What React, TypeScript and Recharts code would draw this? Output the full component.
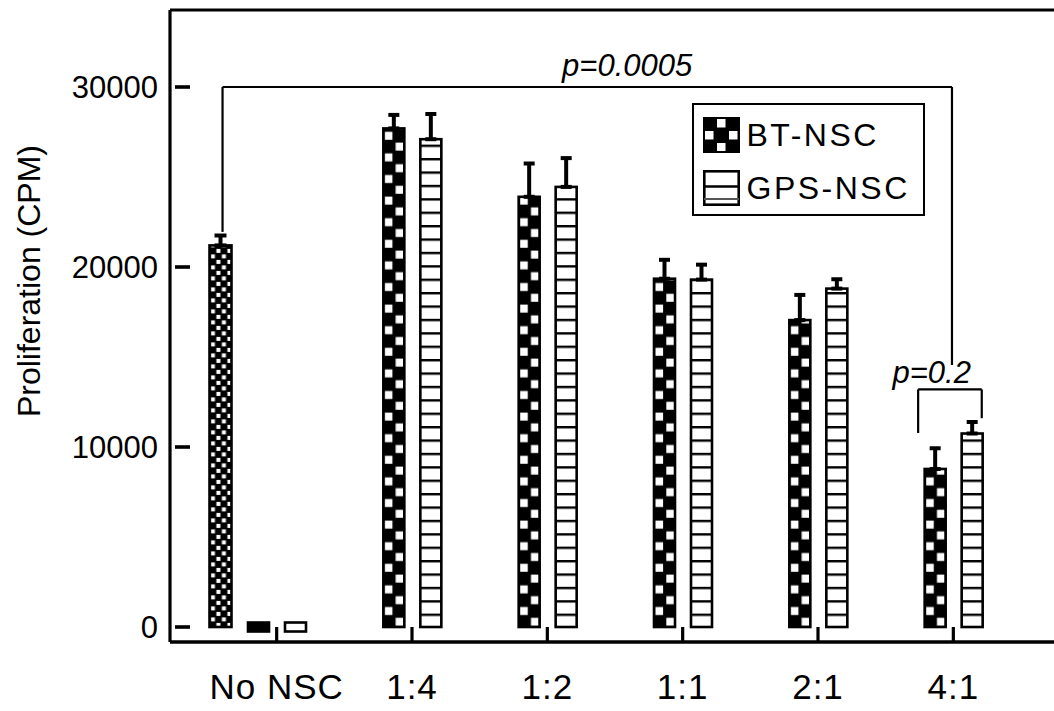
import React from "react";
import {
  Bar,
  BarChart,
  ErrorBar,
  Legend,
  ReferenceDot,
  ReferenceLine,
  XAxis,
  YAxis,
} from "recharts";

const groups = ["No NSC", "1:4", "1:2", "1:1", "2:1", "4:1"];
const tCellsAlone = [21200, null, null, null, null, null];
const tCellsAloneErr = [550, null, null, null, null, null];
const btNsc = [0, 27700, 23900, 19350, 17050, 8780];
const btNscErr = [null, 750, 1850, 1050, 1400, 1150];
const gpsNsc = [0, 27100, 24450, 19300, 18800, 10750];
const gpsNscErr = [null, 1400, 1600, 830, 520, 640];
const yTicks = [0, 10000, 20000, 30000];

// annotation positions, x in category units (0 = "No NSC" ... 5 = "4:1")
const bigBracket = { from: -0.4, to: 4.99, y: 30000, leftFoot: 21950, rightFoot: 14550, textX: 2.59 };
const smallBracket = { from: 4.74, to: 5.21, y: 13200, leftFoot: 10780, rightFoot: 11600, textX: 4.84 };

const data = groups.map((group, i) => ({
  group,
  control: tCellsAlone[i],
  controlErr: tCellsAloneErr[i],
  bt: btNsc[i],
  btErr: btNscErr[i],
  gps: gpsNsc[i],
  gpsErr: gpsNscErr[i],
}));

const font = "'Liberation Sans', Arial, Helvetica, sans-serif";
const yDomain: [number, number] = [-833, 34278];
const axisPadding = { left: 39, right: 33 };
const halfBand = 67.67;

function BarPattern({ id, kind, x = 0, y = 0 }: { id: string; kind: string; x?: number; y?: number }) {
  if (kind === "control") {
    return (
      <pattern id={id} patternUnits="userSpaceOnUse" x={x} y={y} width={11} height={11}>
        <rect width={11} height={11} fill="#000" />
        <rect x={1.4} y={1.4} width={4} height={4} fill="#fff" />
        <rect x={6.9} y={6.9} width={4} height={4} fill="#fff" />
      </pattern>
    );
  }
  if (kind === "bt") {
    return (
      <pattern id={id} patternUnits="userSpaceOnUse" x={x} y={y} width={22} height={21.6}>
        <rect width={22} height={21.6} fill="#000" />
        <rect x={1.3} y={1.6} width={7.8} height={8} fill="#fff" />
        <rect x={12.3} y={12.4} width={7.8} height={8} fill="#fff" />
      </pattern>
    );
  }
  return (
    <pattern id={id} patternUnits="userSpaceOnUse" x={x} y={y} width={10} height={13.4}>
      <rect width={10} height={13.4} fill="#fff" />
      <rect y={0} width={10} height={2.4} fill="#000" />
    </pattern>
  );
}

function PatternBar(props: any) {
  const { x, y, width, height, index, kind } = props;
  if (![x, y, width, height].every((v) => Number.isFinite(v))) return null;
  let top = y;
  let h = height;
  const tiny = h < 6;
  if (tiny) {
    const base = y + h;
    top = base - 4.5;
    h = 9;
  }
  const id = `${kind}-bar-${index}`;
  const fill = tiny && kind === "bt" ? "#000" : `url(#${id})`;
  return (
    <g>
      <defs>
        <BarPattern id={id} kind={kind} x={x} y={top + h} />
      </defs>
      <rect x={x} y={top} width={width} height={h} fill={fill} stroke="#000" strokeWidth={2.6} />
    </g>
  );
}

function YTick(props: any) {
  const { x, y, payload } = props;
  const axisX = x + 12;
  return (
    <g>
      <line x1={axisX + 5} x2={axisX + 20} y1={y} y2={y} stroke="#000" strokeWidth={3.6} />
      <text x={x} y={y} dy="0.36em" textAnchor="end" fontSize={31} fill="#000" fontFamily={font}>
        {payload.value}
      </text>
    </g>
  );
}

function XTick(props: any) {
  const { x, y, payload } = props;
  return (
    <g>
      <line x1={x} x2={x} y1={y} y2={y - 15} stroke="#000" strokeWidth={3.2} />
      <text x={x} y={y + 57} textAnchor="middle" fontSize={35} letterSpacing={1} fill="#000" fontFamily={font}>
        {payload.value}
      </text>
    </g>
  );
}

function YLabel(props: any) {
  const vb = props.viewBox || { x: 0, y: 10, width: 170, height: 632 };
  const cx = vb.x + 29;
  const cy = vb.y + vb.height / 2 - 45;
  return (
    <text
      x={cx}
      y={cy}
      transform={`rotate(-90, ${cx}, ${cy})`}
      textAnchor="middle"
      dominantBaseline="central"
      fontSize={32}
      fill="#000"
      fontFamily={font}
    >
      Proliferation (CPM)
    </text>
  );
}

function LegendSwatch({ kind }: { kind: string }) {
  return (
    <svg width={37} height={36} style={{ display: "block" }}>
      {kind === "bt" ? (
        <>
          <defs>
            <pattern id="legend-bt" patternUnits="userSpaceOnUse" width={24} height={24}>
              <rect width={24} height={24} fill="#000" />
              <rect x={14} y={2} width={8.5} height={8.5} fill="#fff" />
              <rect x={2} y={14} width={8.5} height={8.5} fill="#fff" />
            </pattern>
          </defs>
          <rect x={1} y={1} width={35} height={34} fill="url(#legend-bt)" stroke="#000" strokeWidth={2} />
        </>
      ) : (
        <>
          <rect x={1.3} y={1.3} width={34.4} height={33.4} fill="#fff" stroke="#000" strokeWidth={2.6} />
          <line x1={1} x2={36} y1={16.5} y2={16.5} stroke="#000" strokeWidth={2.4} />
          <line x1={1} x2={36} y1={29} y2={29} stroke="#555" strokeWidth={2} />
        </>
      )}
    </svg>
  );
}

function LegendBox(props: any) {
  const items = (props.payload || []).filter((p: any) => p.dataKey === "bt" || p.dataKey === "gps");
  return (
    <div
      style={{
        boxSizing: "border-box",
        width: 233,
        height: 113,
        border: "2.5px solid #000",
        padding: "11.5px 0 0 8.5px",
        background: "#fff",
        fontFamily: font,
      }}
    >
      {items.map((item: any, i: number) => (
        <div
          key={item.dataKey}
          style={{ display: "flex", alignItems: "center", height: 36, marginBottom: i === 0 ? 17 : 0 }}
        >
          <LegendSwatch kind={item.dataKey} />
          <span style={{ marginLeft: 7, fontSize: 32, letterSpacing: 2.5, lineHeight: 1, color: "#000" }}>
            {item.value}
          </span>
        </div>
      ))}
    </div>
  );
}

export default function App() {
  const lineStyle = { stroke: "#000", strokeWidth: 2.2, ifOverflow: "visible" as const };
  return (
    <div style={{ position: "absolute", left: 0, top: 0, width: 1054, height: 711, background: "#fff", fontFamily: font }}>
      <BarChart
        width={1054}
        height={711}
        data={data}
        margin={{ top: 10, right: 0, bottom: 0, left: 0 }}
        barGap={16}
      >
        <XAxis
          xAxisId="main"
          dataKey="group"
          height={69}
          padding={axisPadding}
          axisLine={{ stroke: "#000", strokeWidth: 3.6 }}
          tickLine={false}
          tickSize={0}
          tickMargin={0}
          interval={0}
          tick={(p: any) => <XTick {...p} />}
        />
        <XAxis
          xAxisId="ctrl"
          dataKey="group"
          orientation="top"
          height={0}
          hide
          padding={{ left: axisPadding.left - 56.5, right: axisPadding.right + 56.5 }}
        />
        <XAxis
          xAxisId="num"
          type="number"
          orientation="top"
          height={0}
          hide
          domain={[0, 5]}
          allowDataOverflow
          padding={{ left: axisPadding.left + halfBand, right: axisPadding.right + halfBand }}
        />
        <YAxis
          width={170}
          domain={yDomain}
          allowDataOverflow
          ticks={yTicks}
          interval={0}
          axisLine={{ stroke: "#000", strokeWidth: 3.2 }}
          tickLine={false}
          tickSize={0}
          tickMargin={12}
          tick={(p: any) => <YTick {...p} />}
          label={{ content: (p: any) => <YLabel {...p} /> }}
        />
        <ReferenceLine xAxisId="main" y={yDomain[1]} stroke="#000" strokeWidth={3.2} ifOverflow="visible" />

        <Bar
          xAxisId="ctrl"
          dataKey="control"
          name="T cells"
          legendType="none"
          barSize={22}
          isAnimationActive={false}
          shape={(p: any) => <PatternBar {...p} kind="control" />}
        >
          <ErrorBar
            dataKey={(d: any) => (d.controlErr == null ? null : [0, d.controlErr])}
            width={6}
            stroke="#000"
            strokeWidth={4}
            isAnimationActive={false}
          />
        </Bar>
        <Bar
          xAxisId="main"
          dataKey="bt"
          name="BT-NSC"
          barSize={21}
          minPointSize={2}
          isAnimationActive={false}
          shape={(p: any) => <PatternBar {...p} kind="bt" />}
        >
          <ErrorBar
            dataKey={(d: any) => (d.btErr == null ? null : [0, d.btErr])}
            width={5.5}
            stroke="#000"
            strokeWidth={4}
            isAnimationActive={false}
          />
        </Bar>
        <Bar
          xAxisId="main"
          dataKey="gps"
          name="GPS-NSC"
          barSize={21}
          minPointSize={2}
          isAnimationActive={false}
          shape={(p: any) => <PatternBar {...p} kind="gps" />}
        >
          <ErrorBar
            dataKey={(d: any) => (d.gpsErr == null ? null : [0, d.gpsErr])}
            width={5.5}
            stroke="#000"
            strokeWidth={4}
            isAnimationActive={false}
          />
        </Bar>

        {/* p=0.0005 bracket */}
        <ReferenceLine
          xAxisId="num"
          segment={[
            { x: bigBracket.from, y: bigBracket.leftFoot },
            { x: bigBracket.from, y: bigBracket.y },
          ]}
          {...lineStyle}
        />
        <ReferenceLine
          xAxisId="num"
          segment={[
            { x: bigBracket.from, y: bigBracket.y },
            { x: bigBracket.to, y: bigBracket.y },
          ]}
          {...lineStyle}
        />
        <ReferenceLine
          xAxisId="num"
          segment={[
            { x: bigBracket.to, y: bigBracket.y },
            { x: bigBracket.to, y: bigBracket.rightFoot },
          ]}
          {...lineStyle}
        />
        <ReferenceDot
          xAxisId="num"
          x={bigBracket.textX}
          y={bigBracket.y}
          r={0}
          ifOverflow="visible"
          label={{
            value: "p=0.0005",
            position: "top",
            offset: 11,
            fontSize: 31,
            fontStyle: "italic",
            fill: "#000",
            fontFamily: font,
          }}
        />

        {/* p=0.2 bracket */}
        <ReferenceLine
          xAxisId="num"
          segment={[
            { x: smallBracket.from, y: smallBracket.leftFoot },
            { x: smallBracket.from, y: smallBracket.y },
          ]}
          {...lineStyle}
        />
        <ReferenceLine
          xAxisId="num"
          segment={[
            { x: smallBracket.from, y: smallBracket.y },
            { x: smallBracket.to, y: smallBracket.y },
          ]}
          {...lineStyle}
        />
        <ReferenceLine
          xAxisId="num"
          segment={[
            { x: smallBracket.to, y: smallBracket.y },
            { x: smallBracket.to, y: smallBracket.rightFoot },
          ]}
          {...lineStyle}
        />
        <ReferenceDot
          xAxisId="num"
          x={smallBracket.textX}
          y={smallBracket.y}
          r={0}
          ifOverflow="visible"
          label={{
            value: "p=0.2",
            position: "top",
            offset: 6,
            fontSize: 31,
            fontStyle: "italic",
            fill: "#000",
            fontFamily: font,
          }}
        />

        <Legend
          layout="vertical"
          align="center"
          verticalAlign="middle"
          content={(p: any) => <LegendBox {...p} />}
          wrapperStyle={{ left: 692, top: 103, width: 233, height: 113 }}
        />
      </BarChart>
    </div>
  );
}
